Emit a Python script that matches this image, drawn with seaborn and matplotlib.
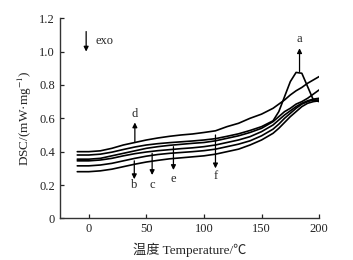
import pandas as pd
import matplotlib
matplotlib.use('Agg')
import matplotlib.pyplot as plt
import seaborn as sns

# temperature grid (deg C) shared by all curves
temp = [-10, 0, 10, 20, 30, 40, 50, 60, 70, 80, 90, 100, 110, 120, 130, 140,
        150, 160, 165, 170, 175, 180, 185, 190, 195, 200]

curve_d = [0.40, 0.40, 0.405, 0.42, 0.44, 0.455, 0.47, 0.482, 0.492, 0.50, 0.506, 0.515, 0.525, 0.55,
           0.57, 0.60, 0.625, 0.66, 0.685, 0.71, 0.74, 0.765, 0.785, 0.81, 0.83, 0.85]
curve_a = [0.38, 0.38, 0.385, 0.397, 0.413, 0.428, 0.44, 0.448, 0.454, 0.459, 0.464, 0.47, 0.478, 0.492,
           0.507, 0.527, 0.55, 0.585, 0.64, 0.73, 0.82, 0.875, 0.87, 0.79, 0.71, 0.70]
curve_b = [0.355, 0.355, 0.36, 0.375, 0.39, 0.405, 0.42, 0.43, 0.438, 0.444, 0.45, 0.455, 0.465, 0.48,
           0.495, 0.515, 0.54, 0.58, 0.61, 0.64, 0.66, 0.685, 0.70, 0.72, 0.745, 0.77]
curve_c = [0.345, 0.345, 0.35, 0.36, 0.375, 0.388, 0.398, 0.406, 0.412, 0.418, 0.423, 0.43, 0.44, 0.455,
           0.47, 0.49, 0.52, 0.56, 0.59, 0.62, 0.645, 0.67, 0.69, 0.705, 0.715, 0.72]
curve_e = [0.315, 0.315, 0.32, 0.33, 0.345, 0.36, 0.373, 0.383, 0.39, 0.395, 0.40, 0.406, 0.415, 0.43,
           0.445, 0.465, 0.495, 0.535, 0.565, 0.60, 0.63, 0.66, 0.685, 0.70, 0.71, 0.71]
curve_f = [0.28, 0.28, 0.285, 0.295, 0.31, 0.325, 0.338, 0.348, 0.357, 0.363, 0.369, 0.375, 0.385, 0.40,
           0.415, 0.44, 0.47, 0.51, 0.54, 0.575, 0.61, 0.64, 0.67, 0.69, 0.70, 0.705]

series = {'d': curve_d, 'a': curve_a, 'b': curve_b, 'c': curve_c, 'e': curve_e, 'f': curve_f}

# label text, label position, arrow tail, arrow tip
labels = [
    ('a', (183, 1.075), (183, 0.88), (183, 1.02)),
    ('d', (40, 0.625), (40, 0.46), (40, 0.575)),
    ('b', (39.5, 0.20), (39.5, 0.345), (39.5, 0.235)),
    ('c', (55, 0.20), (55, 0.39), (55, 0.26)),
    ('e', (73.5, 0.235), (73.5, 0.43), (73.5, 0.29)),
    ('f', (110, 0.255), (110, 0.50), (110, 0.30)),
]

rows = []
for name, vals in series.items():
    for t, v in zip(temp, vals):
        rows.append({'temp': t, 'dsc': v, 'curve': name})
df = pd.DataFrame(rows)

sns.set_style('ticks')
plt.rcParams['font.family'] = ['Liberation Serif', 'Noto Sans CJK SC']
plt.rcParams['mathtext.fontset'] = 'stix'

fig = plt.figure(figsize=(3.53, 2.6), dpi=100)
ax = fig.add_axes([0.170, 0.160, 0.734, 0.770])

sns.lineplot(data=df, x='temp', y='dsc', hue='curve', palette=['black'] * 6,
             linewidth=1.2, legend=False, ax=ax, sort=False)

arrow = dict(arrowstyle='-|>', color='black', lw=0.9, mutation_scale=7, shrinkA=0, shrinkB=0)
for txt, lpos, tail, tip in labels:
    ax.annotate('', xy=tip, xytext=tail, arrowprops=arrow)
    ax.text(lpos[0], lpos[1], txt, ha='center', va='center', fontsize=9)

# exo marker
ax.annotate('', xy=(-2.3, 1.0), xytext=(-2.3, 1.12), arrowprops=arrow)
ax.text(5.5, 1.065, 'exo', ha='left', va='center', fontsize=9)

ax.set_xlim(-25, 200)
ax.set_ylim(0, 1.2)
ax.set_xticks([0, 50, 100, 150, 200])
ax.set_yticks([0, 0.2, 0.4, 0.6, 0.8, 1.0, 1.2])
ax.set_yticklabels(['0', '0.2', '0.4', '0.6', '0.8', '1.0', '1.2'])
ax.tick_params(direction='in', length=3, width=0.9, labelsize=9, colors='#222222')
sns.despine(ax=ax)
for s in ['left', 'bottom']:
    ax.spines[s].set_linewidth(1.0)
    ax.spines[s].set_color('#333333')

ax.set_xlabel('温度 Temperature/℃', fontsize=9.5, labelpad=5)
ax.set_ylabel('DSC/(mW·mg$^{-1}$)', fontsize=9.5, labelpad=4)

fig.savefig('out.png', dpi=100)
